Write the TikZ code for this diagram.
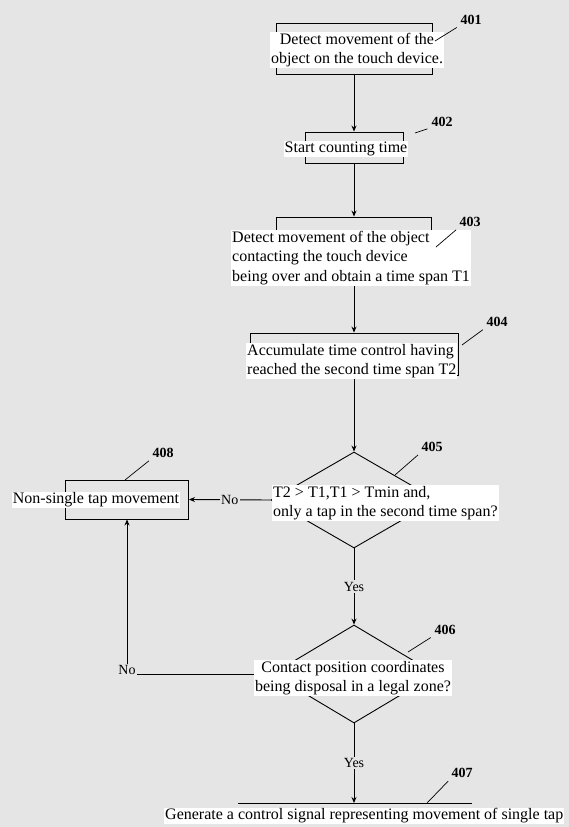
\documentclass[tikz,border=0pt]{standalone}
\usepackage{fontspec}
\setmainfont{Liberation Serif}
\usetikzlibrary{shapes.geometric,arrows.meta}
\tikzset{
  box/.style={draw, line width=0.9pt, inner sep=0pt},
  decision/.style={draw, diamond, line width=0.9pt, inner sep=0pt},
  txt/.style={fill=white, inner sep=1pt, font=\fontsize{16}{19.5}\selectfont},
  answer/.style={fill=black!10, inner sep=1.5pt, font=\fontsize{14}{14}\selectfont},
  refnum/.style={inner sep=1pt, font=\fontsize{14}{14}\selectfont\bfseries},
  flow/.style={line width=0.9pt, -{Stealth[length=6pt,width=5pt]}},
}
\begin{document}
\begin{tikzpicture}[x=1pt,y=-1pt]
            % Sheet
            \fill[black!10] (0,0) rectangle (569,827);
            \useasboundingbox (0,0) rectangle (569,827);
            % Steps
            \node[box, minimum width=156pt, minimum height=51pt] (b401) at (354,48.5) {};
            \node[box, minimum width=98pt, minimum height=31pt] (b402) at (354,147.5) {};
            \node[box, minimum width=155pt, minimum height=51pt] (b403) at (354,242.5) {};
            \node[box, minimum width=208pt, minimum height=42pt] (b404) at (354,354) {};
            \node[decision, minimum width=166pt, minimum height=96pt] (d405) at (354,500) {};
            \node[decision, minimum width=164pt, minimum height=98pt] (d406) at (354,674) {};
            \node[box, minimum width=123pt, minimum height=39pt] (b408) at (127,499.5) {};
            \coordinate (b407) at (354,803);
            \draw[line width=0.9pt] (238,803) -- (472,803);
            % Flow
            \draw[flow] (b401) -- (b402);
            \draw[flow] (b402) -- (b403);
            \draw[flow] (b403) -- (b404);
            \draw[flow] (b404) -- (d405);
            \draw[flow] (d405.west) -- node[answer] (no405) {No} (b408.east);
            \draw[flow] (d405.south) -- node[answer] (yes405) {Yes} (d406.north);
            \draw[flow] (d406.south) -- node[answer] (yes406) {Yes} (b407);
            \node[answer] (no406) at (127,670) {No};
            \draw[line width=0.9pt] (d406.west) -- (d406.west -| no406.east);
            \draw[flow] (no406) -- (b408);
            % Texts
            \node[txt, align=center] (t401) at (357,50) {Detect movement of the\\object on the touch device.};
            \node[txt] (t402) at (346,149) {Start counting time};
            \node[txt, align=left, anchor=west] (t403) at (231,258) {Detect movement of the object\\contacting the touch device\\being over and obtain a time span T1};
            \node[txt, align=left, anchor=west] (t404) at (246,361) {Accumulate time control having\\reached the second time span T2};
            \node[txt, align=left, anchor=west] (t405) at (272,503) {T2 > T1,T1 > Tmin and,\\only a tap in the second time span?};
            \node[txt, align=center] (t406) at (353,678) {Contact position coordinates\\being disposal in a legal zone?};
            \node[txt] (t408) at (96,500) {Non-single tap movement};
            \node[txt, anchor=west] (t407) at (164,816) {Generate a control signal representing movement of single tap};
            % Reference numerals
            \foreach \x/\y/\lx/\ly/\n in {435/41/471/20/401, 415/133/442/122/402, 436/247/470/222/403,
                462/345/497/322/404, 395/475/432/447/405, 408/652/445/630/406,
                427/803/462/773/407, 125/480/163/453/408} {
                \coordinate (p\n) at (\x,\y);
                \node[refnum] (l\n) at (\lx,\ly) {\n};
                \draw[line width=0.7pt, shorten >=3pt] (p\n) -- (l\n.south west);
            }
\end{tikzpicture}
\end{document}
